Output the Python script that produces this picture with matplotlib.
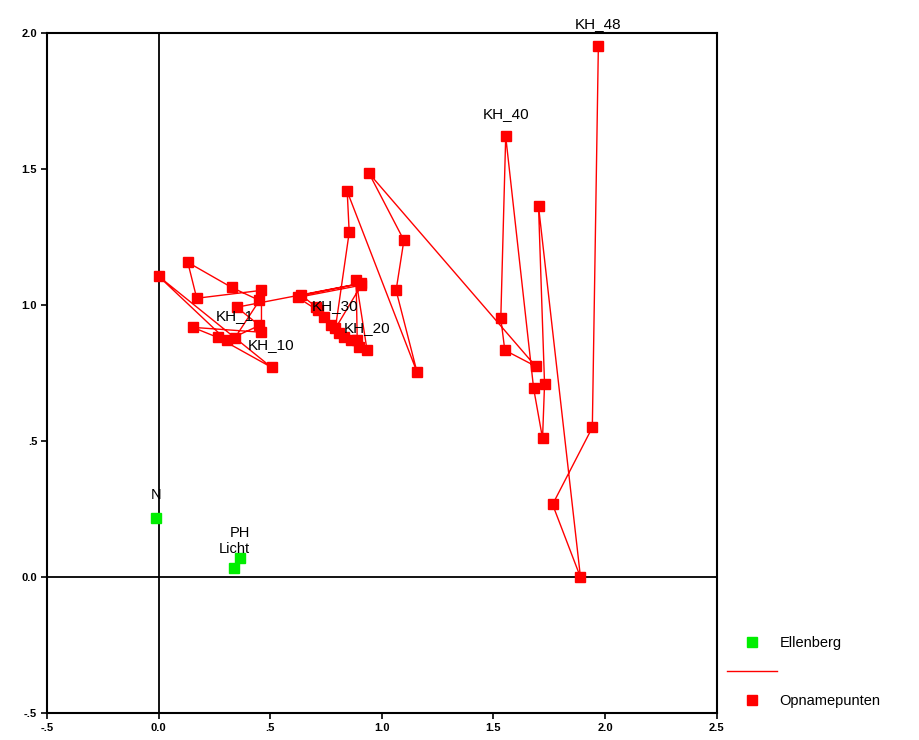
import numpy as np
import matplotlib
matplotlib.use('Agg')
import matplotlib.pyplot as plt
from matplotlib.lines import Line2D

plt.rcParams['font.family'] = ['Liberation Sans', 'DejaVu Sans']

# Ellenberg indicator values (environment vectors)
ell_names = ['N', 'PH', 'Licht']
ell_x = [-0.01, 0.363, 0.34]
ell_y = [0.22, 0.07, 0.033]

# sample points KH_1 .. KH_48, in recording order
opn_x = [0.341, 0.452, 0.327, 0.131, 0.171, 0.461, 0.461, 0.153, 0.265, 0.506,
         0.000, 0.305, 0.452, 0.350, 0.908, 0.640, 0.707, 0.743, 0.832, 0.934,
         0.885, 0.890, 0.773, 0.863, 0.898, 0.809, 0.712, 0.623, 0.908, 0.792,
         0.854, 0.845, 1.158, 1.064, 1.099, 0.943, 1.689, 1.551, 1.533, 1.555,
         1.680, 1.720, 1.729, 1.702, 1.890, 1.765, 1.943, 1.970]
opn_y = [0.879, 1.018, 1.066, 1.158, 1.026, 1.055, 0.901, 0.919, 0.882, 0.772,
         1.107, 0.871, 0.926, 0.993, 1.081, 1.037, 0.993, 0.956, 0.882, 0.835,
         1.092, 0.871, 0.926, 0.871, 0.846, 0.897, 0.982, 1.029, 1.074, 0.915,
         1.268, 1.419, 0.754, 1.055, 1.239, 1.485, 0.776, 0.835, 0.952, 1.621,
         0.695, 0.511, 0.710, 1.364, 0.000, 0.268, 0.551, 1.952]
labelled = [1, 10, 20, 30, 40, 48]

xticks = [-0.5, 0.0, 0.5, 1.0, 1.5, 2.0, 2.5]
yticks = [-0.5, 0.0, 0.5, 1.0, 1.5, 2.0]
tick_txt = {-0.5: '-.5', 0.0: '0.0', 0.5: '.5', 1.0: '1.0', 1.5: '1.5', 2.0: '2.0', 2.5: '2.5'}

red = '#ff0000'
green = '#00ee00'

fig = plt.figure(figsize=(9.2, 7.4), dpi=100)
ax = fig.add_axes([0.051, 0.036, 0.728, 0.919])

ax.axhline(0, color='black', lw=1.3, zorder=1)
ax.axvline(0, color='black', lw=1.3, zorder=1)

ax.plot(opn_x, opn_y, color=red, lw=1.0, marker='s', ms=7.5, mec=red, mfc=red, zorder=3)
ax.plot(ell_x, ell_y, ls='none', marker='s', ms=7.5, mec=green, mfc=green, zorder=3)

for i in labelled:
    ax.annotate(f'KH_{i}', (opn_x[i - 1], opn_y[i - 1]), xytext=(0, 11),
                textcoords='offset points', ha='center', va='bottom', fontsize=11)
for name, x, y in zip(ell_names, ell_x, ell_y):
    off = 9 if name == 'Licht' else (13 if name == 'PH' else 11)
    ax.annotate(name, (x, y), xytext=(0, off), textcoords='offset points',
                ha='center', va='bottom', fontsize=10.5)

ax.set_xlim(-0.5, 2.5)
ax.set_ylim(-0.5, 2.0)
ax.set_xticks(xticks)
ax.set_yticks(yticks)
ax.set_xticklabels([tick_txt[t] for t in xticks], fontsize=8, fontweight='bold')
ax.set_yticklabels([tick_txt[t] for t in yticks], fontsize=8, fontweight='bold')
ax.tick_params(direction='out', length=4, width=1.2, pad=3)
for s in ax.spines.values():
    s.set_linewidth(1.5)

handles = [Line2D([], [], ls='none', marker='s', ms=7, color=green),
           Line2D([], [], color=red, lw=1.0),
           Line2D([], [], ls='none', marker='s', ms=7, color=red)]
fig.legend(handles, ['Ellenberg', '', 'Opnamepunten'], loc='lower left',
           bbox_to_anchor=(0.776, 0.026), frameon=False, fontsize=10.5,
           handlelength=3.4, labelspacing=1.0, handletextpad=0.2)

fig.savefig('out.png', dpi=100)
